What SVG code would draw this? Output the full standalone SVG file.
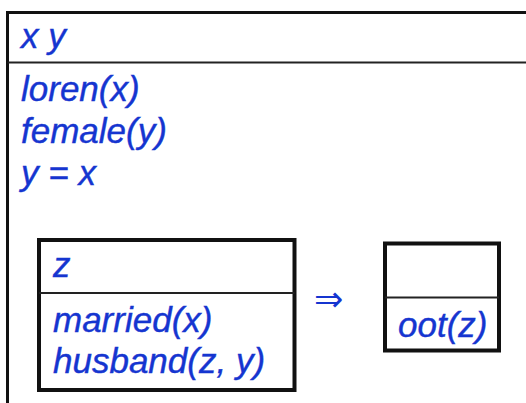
<svg xmlns="http://www.w3.org/2000/svg" width="526" height="403" viewBox="0 0 526 403">
<style>
.t{font-family:"Liberation Sans",Arial,sans-serif;font-style:italic;font-size:35px;fill:#1535d0;stroke:#1535d0;stroke-width:0.4}
.box{fill:none;stroke:#111;stroke-width:4}
.div{stroke:#222;stroke-width:2}
.arr{font-family:"DejaVu Sans",sans-serif;font-size:35px;fill:#1535d0}
</style>
<rect width="526" height="403" fill="#fff"/>
<g id="outer">
<rect x="7.5" y="12.5" width="560" height="440" fill="none" stroke="#111" stroke-width="3"/>
<line class="div" x1="7.5" y1="62.5" x2="530" y2="62.5"/>
<text class="t" x="21" y="48">x y</text>
<text class="t" x="21" y="101">loren(x)</text>
<text class="t" x="21" y="143">female(y)</text>
<text class="t" x="21" y="185">y = x</text>
</g>
<g id="antecedent">
<rect class="box" x="39" y="240" width="255.5" height="150"/>
<line class="div" x1="39" y1="293" x2="294.5" y2="293"/>
<text class="t" x="53" y="277">z</text>
<text class="t" x="53" y="332">married(x)</text>
<text class="t" x="53" y="373">husband(z, y)</text>
</g>
<g id="connectors">
<text class="arr" x="314" y="311">⇒</text>
</g>
<g id="consequent">
<rect class="box" x="385" y="243.5" width="114" height="107"/>
<line class="div" x1="385" y1="297.5" x2="499" y2="297.5"/>
<text class="t" x="398" y="337">oot(z)</text>
</g>
</svg>
